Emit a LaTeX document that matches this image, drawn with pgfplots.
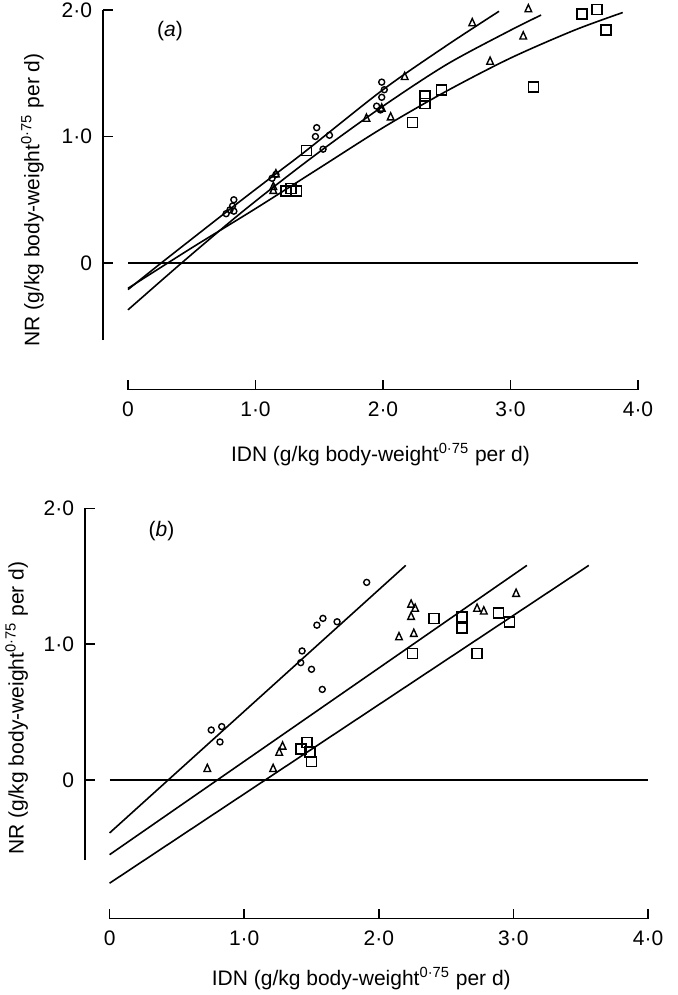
\documentclass[border=0pt]{standalone}
\usepackage{fontspec}
\setmainfont{Liberation Sans}
\usepackage{pgfplots}
\pgfplotsset{compat=1.18}
\pgfplotsset{
  sep/.style={
    axis x line*=bottom, axis y line*=left,
    xmin=0, xmax=4,
    xtick={0,1,2,3,4}, xticklabels={0,1·0,2·0,3·0,4·0},
    ytick={0,1,2}, yticklabels={0,1·0,2·0},
    tick align=inside, major tick length=5pt,
    every tick/.style={black, line width=0.75pt},
    axis line style={line width=0.75pt, -},
    clip=false,
    tick label style={font=\fontsize{10.5}{12}\selectfont},
    xticklabel style={yshift=-2.5pt},
    yticklabel style={xshift=-2pt},
    label style={font=\fontsize{10.5}{12}\selectfont},
  },
  circ/.style={only marks, mark=o, mark size=1.5pt, mark options={line width=0.7pt}},
  tri/.style={only marks, mark=triangle, mark size=2.4pt, mark options={line width=0.7pt, xscale=0.8}},
  sq/.style={only marks, mark=square, mark size=2.5pt, mark options={line width=0.8pt}},
  fit/.style={no marks, line width=0.8pt, black},
}
\begin{document}
\begin{tikzpicture}
\useasboundingbox (0,0) rectangle (338.5pt,497.5pt);
% ---------------- panel (a)
\begin{axis}[sep, at={(64pt,327.4pt)}, anchor=south west,
  x=63.75pt, y=63.25pt, ymin=-0.61, ymax=2.0,
  axis x line shift=24.7pt, axis y line shift=12.5pt,
  xlabel={IDN (g/kg body-weight\textsuperscript{0·75} per d)},
  ylabel={NR (g/kg body-weight\textsuperscript{0·75} per d)},
  xlabel style={at={(axis description cs:0.495,-0.345)}, anchor=center},
  ylabel style={at={(axis description cs:-0.1875,0.425)}, anchor=center},
]
\addplot[fit] coordinates {(0,0) (4,0)};
\addplot[fit, smooth] coordinates {(0,-0.21) (0.26,0) (0.83,0.45) (1.14,0.69) (1.40,0.89) (2.0,1.37) (2.5,1.72) (2.91,1.99)};
\addplot[fit, smooth] coordinates {(0,-0.37) (0.42,0) (0.83,0.35) (1.14,0.60) (1.53,0.90) (2.0,1.24) (2.5,1.57) (3.0,1.84) (3.24,1.96)};
\addplot[fit, smooth] coordinates {(0,-0.20) (0.5,0.12) (1.0,0.43) (1.5,0.75) (2.0,1.07) (2.5,1.36) (3.0,1.62) (3.5,1.84) (3.88,1.98)};
\addplot[circ] coordinates {(0.77,0.39) (0.80,0.42) (0.82,0.45) (0.83,0.50) (0.83,0.41) (1.13,0.67) (1.16,0.70) (1.48,1.07) (1.47,1.00) (1.58,1.01) (1.53,0.90) (1.99,1.43) (2.01,1.37) (1.99,1.31) (1.95,1.24) (1.98,1.21)};
\addplot[tri] coordinates {(2.70,1.895) (3.14,2.005) (3.10,1.79) (2.84,1.59) (2.17,1.47) (1.87,1.14) (2.06,1.15) (1.99,1.22) (1.14,0.57) (1.14,0.60) (1.16,0.70)};
\addplot[sq] coordinates {(1.40,0.89) (1.24,0.57) (1.28,0.59) (1.32,0.57) (2.23,1.11) (2.33,1.32) (2.33,1.26) (2.46,1.37) (3.18,1.39) (3.56,1.97) (3.68,2.005) (3.75,1.84)};
\node[font=\fontsize{10.5}{12}\selectfont] at (axis cs:0.33,1.83) {(\textit{a})};
\end{axis}
% ---------------- panel (b)
\begin{axis}[sep, at={(54.8pt,67.45pt)}, anchor=south west,
  x=67.3pt, y=67.9pt, ymin=-0.59, ymax=2.0,
  axis x line shift=29.2pt, axis y line shift=12.3pt,
  xlabel={IDN (g/kg body-weight\textsuperscript{0·75} per d)},
  ylabel={NR (g/kg body-weight\textsuperscript{0·75} per d)},
  xlabel style={at={(axis description cs:0.4675,-0.337)}, anchor=center},
  ylabel style={at={(axis description cs:-0.1725,0.432)}, anchor=center},
]
\addplot[fit] coordinates {(0,0) (4,0)};
\addplot[fit] coordinates {(0,-0.39) (2.20,1.58)};
\addplot[fit] coordinates {(0,-0.55) (3.10,1.58)};
\addplot[fit] coordinates {(0,-0.76) (3.56,1.58)};
\addplot[circ] coordinates {(1.91,1.455) (1.54,1.14) (1.585,1.19) (1.69,1.165) (1.43,0.95) (1.42,0.864) (1.50,0.815) (1.58,0.667) (0.755,0.368) (0.833,0.393) (0.82,0.28)};
\addplot[tri] coordinates {(0.726,0.08) (1.215,0.08) (1.26,0.20) (1.285,0.245) (2.15,1.05) (2.24,1.29) (2.27,1.26) (2.24,1.20) (2.26,1.075) (2.73,1.26) (2.78,1.24) (3.02,1.37)};
\addplot[sq] coordinates {(1.42,0.23) (1.465,0.277) (1.49,0.204) (1.50,0.135) (2.25,0.93) (2.41,1.19) (2.62,1.20) (2.62,1.12) (2.73,0.93) (2.89,1.23) (2.97,1.165)};
\node[font=\fontsize{10.5}{12}\selectfont] at (axis cs:0.385,1.83) {(\textit{b})};
\end{axis}
\end{tikzpicture}
\end{document}
